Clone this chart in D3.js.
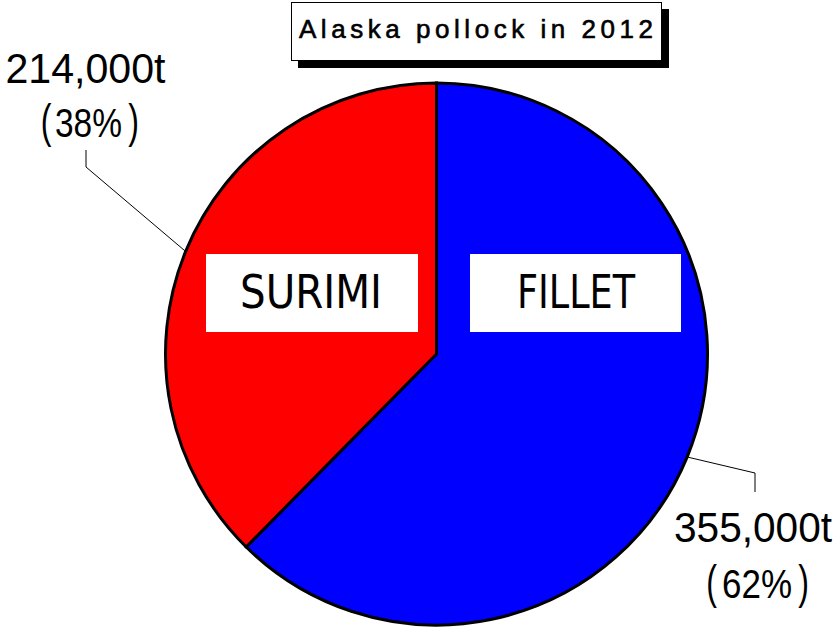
<!DOCTYPE html>
<meta charset="utf-8">
<style>
  body { margin: 0; background: #ffffff; }
  text { font-family: "Liberation Sans", Arial, sans-serif; fill: #000000; }
  .inner { font-family: "Liberation Sans Narrow", "DejaVu Sans Condensed", sans-serif; font-size: 47px; }
  .amount { font-size: 43px; }
  .pct { font-size: 41px; }
  .paren { font-size: 46px; }
</style>
<script src="https://d3js.org/d3.v7.min.js"></script>
<div id="chart"></div>
<script>
// data
var categories = ["FILLET", "SURIMI"];
var tonnes = [355000, 214000];
var shares = [62, 38];
var colours = ["#0000ff", "#ff0000"];

var width = 837, height = 628;
var cx = 436.5, cy = 354, radius = 271;

var svg = d3.select("#chart").append("svg")
    .attr("width", width)
    .attr("height", height);

var rows = categories.map(function(c, i) {
  return { name: c, value: tonnes[i], share: shares[i], colour: colours[i] };
});

var pie = d3.pie().sort(null).value(function(d) { return d.value; });
var arc = d3.arc().innerRadius(0).outerRadius(radius);
var arcs = pie(rows);

var g = svg.append("g").attr("transform", "translate(" + cx + "," + cy + ")");

g.selectAll("path")
    .data(arcs)
  .enter().append("path")
    .attr("d", arc)
    .attr("fill", function(d) { return d.data.colour; })
    .attr("stroke", "#000")
    .attr("stroke-width", 3)
    .attr("stroke-linejoin", "miter");

// leader lines start at the middle angle of each slice, on the rim
var labelLayout = {
  FILLET: { bend: [755, 473], end: [755, 492], amountX: 753, amountY: 542, pctY: 598,
            parens: [711.5, 757, 803.5], pctLen: 70, amountLen: 158,
            box: [470, 254, 211, 78], textX: 576, textLen: 118 },
  SURIMI: { bend: [86, 167], end: [86, 150], amountX: 85.5, amountY: 83, pctY: 137,
            parens: [46, 88.5, 133.5], pctLen: 67, amountLen: 160,
            box: [206, 254, 212, 78], textX: 311, textLen: 142 }
};

arcs.forEach(function(d) {
  var L = labelLayout[d.data.name];
  var a = (d.startAngle + d.endAngle) / 2;
  var r0 = radius + 1;
  var p0 = [cx + r0 * Math.sin(a), cy - r0 * Math.cos(a)];
  svg.append("polyline")
      .attr("points", [p0, L.bend, L.end].map(function(p) { return p.join(","); }).join(" "))
      .attr("fill", "none")
      .attr("stroke", "#000")
      .attr("stroke-width", 1);

  svg.append("text")
      .attr("class", "amount")
      .attr("x", L.amountX)
      .attr("y", L.amountY)
      .attr("text-anchor", "middle")
      .attr("textLength", L.amountLen)
      .attr("lengthAdjust", "spacingAndGlyphs")
      .text(d3.format(",")(d.data.value) + "t");

  svg.append("text")
      .attr("class", "pct")
      .attr("x", L.parens[1])
      .attr("y", L.pctY)
      .attr("text-anchor", "middle")
      .attr("textLength", L.pctLen)
      .attr("lengthAdjust", "spacingAndGlyphs")
      .text(d.data.share + "%");

  [["(", L.parens[0]], [")", L.parens[2]]].forEach(function(p) {
    svg.append("text")
        .attr("class", "paren")
        .attr("x", p[1])
        .attr("y", L.pctY)
        .attr("text-anchor", "middle")
        .attr("transform", "translate(" + p[1] + ",0) scale(0.7,1) translate(" + (-p[1]) + ",0)")
        .text(p[0]);
  });

  svg.append("rect")
      .attr("x", L.box[0]).attr("y", L.box[1])
      .attr("width", L.box[2]).attr("height", L.box[3])
      .attr("fill", "#fff");
  svg.append("text")
      .attr("class", "inner")
      .attr("x", L.textX)
      .attr("y", 308)
      .attr("text-anchor", "middle")
      .attr("textLength", L.textLen)
      .attr("lengthAdjust", "spacingAndGlyphs")
      .text(d.data.name);
});

// title box with drop shadow
svg.append("rect")
    .attr("x", 298).attr("y", 9)
    .attr("width", 371).attr("height", 59)
    .attr("fill", "#000");
svg.append("rect")
    .attr("x", 291.5).attr("y", 2.5)
    .attr("width", 370).attr("height", 58)
    .attr("fill", "#fff")
    .attr("stroke", "#000")
    .attr("stroke-width", 1);
svg.append("text")
    .attr("x", 299)
    .attr("y", 38)
    .attr("textLength", 354)
    .attr("lengthAdjust", "spacing")
    .style("font-size", "26px")
    .style("stroke", "#000")
    .style("stroke-width", 0.6)
    .text("Alaska pollock in 2012");
</script>
